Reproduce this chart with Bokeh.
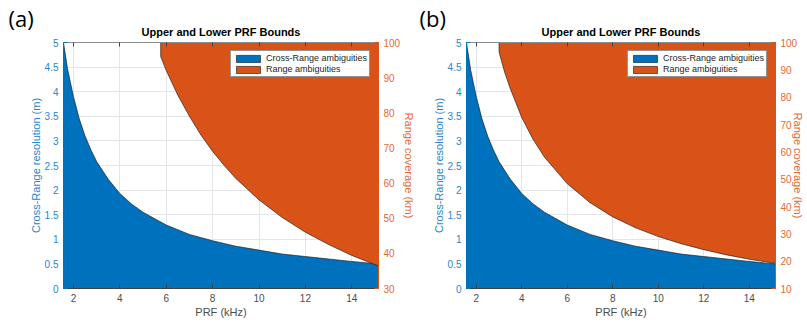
from bokeh.plotting import figure
from bokeh.models import Range1d, LinearAxis, FixedTicker, Legend, LegendItem, Title
from bokeh.layouts import row
from bokeh.embed import file_html
from bokeh.resources import INLINE

# ---------------- data ----------------
prf_ticks = [2, 4, 6, 8, 10, 12, 14]
prf_limits = [1.57, 15.15]

res_ticks = [0, 0.5, 1, 1.5, 2, 2.5, 3, 3.5, 4, 4.5, 5]
res_tick_labels = ["0", "0.5", "1", "1.5", "2", "2.5", "3", "3.5", "4", "4.5", "5"]
res_limits = [0, 5]

# cross-range ambiguity boundary (left axis, m)
cross_prf = [1.57, 1.75, 2.0, 2.25, 2.5, 2.75, 3.0, 3.5, 4.0, 4.5, 5.0, 6.0,
             7.0, 8.0, 9.0, 10.0, 11.0, 12.0, 13.0, 14.0, 15.15]
cross_res = [5.0, 4.45, 3.9, 3.45, 3.1, 2.82, 2.58, 2.22, 1.93, 1.72, 1.55, 1.29,
             1.1, 0.97, 0.86, 0.78, 0.70, 0.65, 0.60, 0.55, 0.50]

# range ambiguity boundary, panel (a) (right axis, km)
a_range_prf = [5.76, 6.0, 6.5, 7.0, 7.5, 8.0, 8.5, 9.0, 10.0, 11.0, 12.0, 13.0, 14.0, 15.15]
a_range_km = [96.0, 92.0, 85.0, 79.0, 73.6, 69.0, 65.0, 61.3, 55.2, 50.2, 46.0, 42.5, 39.4, 36.4]
a_km_ticks = [30, 40, 50, 60, 70, 80, 90, 100]
a_km_limits = [30, 100]

# range ambiguity boundary, panel (b) (right axis, km)
b_range_prf = [3.0, 3.25, 3.5, 4.0, 4.5, 5.0, 6.0, 7.0, 8.0, 9.0, 10.0, 11.0, 12.0, 13.0, 14.0, 15.15]
b_range_km = [96.5, 89.0, 83.0, 72.5, 64.5, 58.0, 48.3, 41.4, 36.2, 32.2, 29.0, 26.4, 24.2, 22.3, 20.7, 19.2]
b_km_ticks = [10, 20, 30, 40, 50, 60, 70, 80, 90, 100]
b_km_limits = [10, 100]

title_text = "Upper and Lower PRF Bounds"
x_label = "PRF (kHz)"
left_label = "Cross-Range resolution (m)"
right_label = "Range coverage (km)"
legend_labels = ["Cross-Range ambiguities", "Range ambiguities"]

# ---------------- style ----------------
BLUE = "#0072BD"
ORANGE = "#D95319"
BLUE_TXT = "#2a86d0"
ORANGE_TXT = "#e46a33"
GREY_TXT = "#4d4d4d"
FONT = "Liberation Sans"


def make_panel(tag, tag_offset, range_prf, range_km, km_ticks, km_limits, width,
               border_left, border_top, border_bottom, right_standoff):
    p = figure(width=width, height=322, output_backend="svg", toolbar_location=None,
               x_range=Range1d(*prf_limits), y_range=Range1d(*res_limits),
               min_border_left=border_left, min_border_right=0,
               min_border_top=border_top, min_border_bottom=border_bottom,
               background_fill_color="white", border_fill_color="white")
    p.outline_line_color = "#8c8c8c"
    p.outline_line_width = 1
    p.title.text = ""

    # x axis
    xa = p.xaxis[0]
    xa.ticker = FixedTicker(ticks=prf_ticks)
    xa.axis_label = x_label
    xa.axis_label_text_font = FONT
    xa.axis_label_text_font_size = "11px"
    xa.axis_label_text_font_style = "normal"
    xa.axis_label_text_color = GREY_TXT
    xa.axis_label_standoff = 1
    xa.major_label_text_font = FONT
    xa.major_label_text_font_size = "10px"
    xa.major_label_text_color = GREY_TXT
    xa.major_label_standoff = 5
    xa.major_tick_in = 4
    xa.major_tick_out = 0
    xa.minor_tick_line_color = None
    xa.axis_line_color = "#404040"
    xa.major_tick_line_color = "#404040"

    # left axis
    ya = p.yaxis[0]
    ya.ticker = FixedTicker(ticks=res_ticks)
    ya.major_label_overrides = {t: s for t, s in zip(res_ticks, res_tick_labels)}
    ya.axis_label = left_label
    ya.axis_label_text_font = FONT
    ya.axis_label_text_font_size = "11px"
    ya.axis_label_text_font_style = "normal"
    ya.axis_label_text_color = BLUE_TXT
    ya.axis_label_standoff = 0
    ya.major_label_text_font = FONT
    ya.major_label_text_font_size = "10px"
    ya.major_label_text_color = BLUE_TXT
    ya.major_label_standoff = 5
    ya.major_tick_in = 4
    ya.major_tick_out = 0
    ya.minor_tick_line_color = None
    ya.axis_line_color = BLUE
    ya.major_tick_line_color = BLUE

    # right axis (km)
    p.extra_y_ranges = {"km": Range1d(*km_limits)}
    ra = LinearAxis(y_range_name="km", ticker=FixedTicker(ticks=km_ticks))
    ra.axis_label = right_label
    ra.axis_label_text_font = FONT
    ra.axis_label_text_font_size = "11px"
    ra.axis_label_text_font_style = "normal"
    ra.axis_label_text_color = ORANGE_TXT
    ra.axis_label_standoff = right_standoff
    ra.major_label_text_font = FONT
    ra.major_label_text_font_size = "10px"
    ra.major_label_text_color = ORANGE_TXT
    ra.major_label_standoff = 5
    ra.major_tick_in = 4
    ra.major_tick_out = 0
    ra.minor_tick_line_color = None
    ra.axis_line_color = ORANGE
    ra.major_tick_line_color = ORANGE
    p.add_layout(ra, "right")

    # top axis: tick marks only
    ta = LinearAxis(ticker=FixedTicker(ticks=prf_ticks))
    ta.major_label_overrides = {t: "" for t in prf_ticks}
    ta.major_label_standoff = 0
    ta.major_tick_in = 4
    ta.major_tick_out = 0
    ta.minor_tick_line_color = None
    ta.axis_line_color = "#8c8c8c"
    ta.major_tick_line_color = "#404040"
    p.add_layout(ta, "above")

    # main title, then the panel tag further out (overlapping it)
    main_title = Title(text=title_text, align="center", vertical_align="top",
                       text_font=FONT, text_font_size="11px", text_font_style="bold",
                       text_color="#000000", standoff=5)
    p.add_layout(main_title, "above")
    tag_title = Title(text=tag, align="left", vertical_align="bottom", offset=tag_offset,
                      text_font="Open Sans", text_font_size="22px", text_font_style="normal",
                      text_color="#000000", standoff=-18)
    p.add_layout(tag_title, "above")

    # grids
    p.xgrid.ticker = FixedTicker(ticks=prf_ticks)
    p.ygrid.ticker = FixedTicker(ticks=res_ticks)
    for g in (p.xgrid[0], p.ygrid[0]):
        g.grid_line_color = "#e2e6ea"
        g.grid_line_width = 1

    # cross-range ambiguity area (under the curve)
    bx = list(cross_prf) + [cross_prf[-1], cross_prf[0]]
    by = list(cross_res) + [res_limits[0], res_limits[0]]
    blue = p.patch(bx, by, fill_color=BLUE, line_color="#111111", line_width=0.6)

    # range ambiguity area (above the curve, right axis)
    ox = list(range_prf) + [range_prf[-1], range_prf[0]]
    oy = list(range_km) + [km_limits[1], km_limits[1]]
    orange = p.patch(ox, oy, fill_color=ORANGE, line_color="#111111", line_width=0.6,
                     y_range_name="km")

    legend = Legend(items=[LegendItem(label=legend_labels[0], renderers=[blue]),
                           LegendItem(label=legend_labels[1], renderers=[orange])],
                    location="top_right")
    legend.margin = 8
    legend.padding = 2
    legend.spacing = 1
    legend.glyph_width = 30
    legend.glyph_height = 9
    legend.label_height = 10
    legend.label_standoff = 3
    legend.label_text_font = FONT
    legend.label_text_font_size = "9px"
    legend.label_text_color = "#262626"
    legend.border_line_color = "#262626"
    legend.border_line_width = 1
    legend.background_fill_color = "white"
    legend.background_fill_alpha = 1
    p.add_layout(legend, "center")
    return p


pa = make_panel("(a)", -55, a_range_prf, a_range_km, a_km_ticks, a_km_limits,
                width=418, border_left=63, border_top=40, border_bottom=32, right_standoff=0)
pb = make_panel("(b)", -47, b_range_prf, b_range_km, b_km_ticks, b_km_limits,
                width=389, border_left=48, border_top=42, border_bottom=34, right_standoff=-8)

layout = row(pa, pb, spacing=0)
open("out.html", "w").write(file_html(layout, INLINE))
